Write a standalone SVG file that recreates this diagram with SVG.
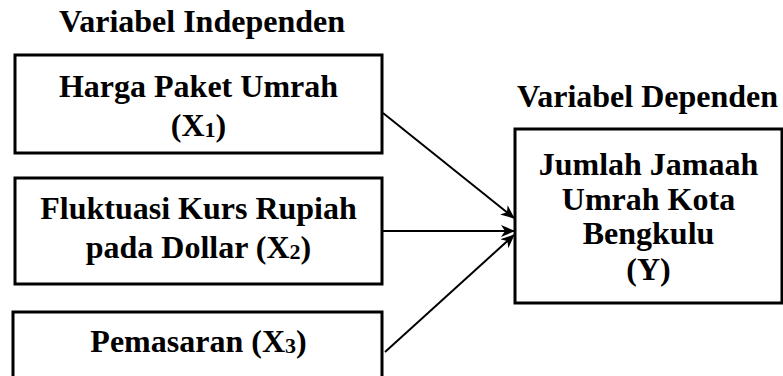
<svg xmlns="http://www.w3.org/2000/svg" width="783" height="376" viewBox="0 0 783 376">
<style>
.box{fill:#fff;stroke:#000;stroke-width:3}
.t{font-family:"Liberation Serif","Times New Roman",serif;font-weight:bold;font-size:32px;fill:#000}
.m{text-anchor:middle}
.sub{font-size:22px}
.c{stroke:#000;stroke-width:2;fill:none;marker-end:url(#ah)}
</style>
<defs>
<marker id="ah" viewBox="0 0 14 12" refX="13" refY="6" markerWidth="14" markerHeight="12" markerUnits="userSpaceOnUse" orient="auto">
<path d="M0,0 L14,6 L0,12 L4,6 Z" fill="#000"/>
</marker>
</defs>
<rect width="783" height="376" fill="#fff"/>
<text class="t m" x="202" y="32">Variabel Independen</text>
<text class="t" x="517" y="107">Variabel Dependen</text>
<g id="x1">
<rect class="box" x="15" y="55" width="367" height="98"/>
<text class="t m" x="198.5" y="97">Harga Paket Umrah</text>
<text class="t m" x="198.5" y="136">(X<tspan class="sub" dy="1">1</tspan><tspan dy="-1">)</tspan></text>
</g>
<g id="x2">
<rect class="box" x="15" y="178" width="367" height="106"/>
<text class="t m" x="198.5" y="219">Fluktuasi Kurs Rupiah</text>
<text class="t m" x="198.5" y="258">pada Dollar (X<tspan class="sub" dy="1">2</tspan><tspan dy="-1">)</tspan></text>
</g>
<g id="x3">
<rect class="box" x="13" y="312" width="369" height="90"/>
<text class="t m" x="198.5" y="352">Pemasaran (X<tspan class="sub" dy="1">3</tspan><tspan dy="-1">)</tspan></text>
</g>
<g id="y">
<rect class="box" x="515" y="129" width="267" height="174"/>
<text class="t m" x="648.5" y="175">Jumlah Jamaah</text>
<text class="t m" x="648.5" y="210">Umrah Kota</text>
<text class="t m" x="648.5" y="244">Bengkulu</text>
<text class="t m" x="648.5" y="280">(Y)</text>
</g>
<g id="connectors">
<line class="c" x1="383" y1="113" x2="514" y2="218"/>
<line class="c" x1="382" y1="231" x2="514" y2="231"/>
<line class="c" x1="385" y1="352" x2="514" y2="235"/>
</g>
</svg>
